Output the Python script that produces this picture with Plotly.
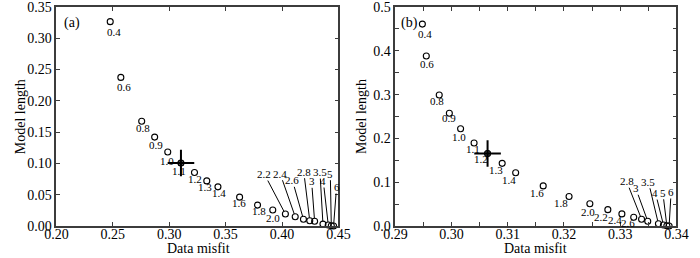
import plotly.graph_objects as go

# ---------------- data ----------------
labels = ["0.4", "0.6", "0.8", "0.9", "1.0", "1.1", "1.2", "1.3", "1.4", "1.6",
          "1.8", "2.0", "2.2", "2.4", "2.6", "2.8", "3", "3.5", "4", "5", "6"]

misfit_a = [0.2477, 0.2571, 0.2756, 0.2871, 0.2987, 0.3104, 0.3224, 0.3333, 0.3432,
            0.3624, 0.3783, 0.3918, 0.4030, 0.4117, 0.4190, 0.4246, 0.4289, 0.4363,
            0.4410, 0.4437, 0.4457]
length_a = [0.3266, 0.2375, 0.1675, 0.1421, 0.1182, 0.1007, 0.0854, 0.0721, 0.0626,
            0.0461, 0.0334, 0.0255, 0.0191, 0.0148, 0.0107, 0.0085, 0.0075, 0.0030,
            0.0016, 0.0005, 0.0000]

misfit_b = [0.2948, 0.2955, 0.2978, 0.2996, 0.3016, 0.3040, 0.3064, 0.3090, 0.3114,
            0.3163, 0.3209, 0.3246, 0.3278, 0.3303, 0.3324, 0.3338, 0.3349, 0.3368,
            0.3377, 0.3383, 0.3387]
length_b = [0.461, 0.388, 0.299, 0.2575, 0.2222, 0.1896, 0.1656, 0.143, 0.1217,
            0.0916, 0.0674, 0.0509, 0.0373, 0.0276, 0.0199, 0.0155, 0.0109, 0.0050,
            0.0022, 0.0005, 0.0000]

ticks_ax = [0.20, 0.25, 0.30, 0.35, 0.40, 0.45]
ticks_ay = [0.00, 0.05, 0.10, 0.15, 0.20, 0.25, 0.30, 0.35]
ticks_bx = [0.29, 0.30, 0.31, 0.32, 0.33, 0.34]
ticks_by = [0.0, 0.1, 0.2, 0.3, 0.4, 0.5]

best_a = 5   # index of chosen parameter (1.1)
best_b = 6   # index of chosen parameter (1.2)

# ---------------- label placement (pixel offsets, style only) ----------------
shift_a = [(4, -10), (3, -10), (1, -7), (1, -8), (-1, -9), (-2, -8), (1, -6), (-2, -6),
           (1, -6), (-1, -6), (1, -6), (0, -8)]
lead_a = [(-21, -40), (-15, -43), (-11, -39), (-6, -49), (-3, -40), (-3, -52),
          (-5, -44), (-1, -52), (3, -39)]
shift_b = [(3, -10), (1, -8), (-2, -6), (0, -5), (-2, -8), (-1, -6), (-7, -6), (-6, -7),
           (-7, -7), (-6, -7), (-8, -7), (-2, -8), (-7, -7), (-7, -6), (-6, -6)]
lead_b = [(-15, -38), (-12, -33), (-10, -42), (-8, -32), (-4, -33), (2, -34)]

FONT = "Liberation Serif"
FRAME = "#3c3c3c"

fig = go.Figure()


def add_panel(xs, ys, best, xa, ya, shifts, leads):
    fig.add_trace(go.Scatter(
        x=xs, y=ys, mode="markers", xaxis=xa, yaxis=ya, cliponaxis=False,
        marker=dict(symbol="circle-open", size=6, color="black", line=dict(width=1.1)),
        showlegend=False, hoverinfo="skip"))
    fig.add_trace(go.Scatter(
        x=[xs[best]], y=[ys[best]], mode="markers", xaxis=xa, yaxis=ya, cliponaxis=False,
        marker=dict(symbol="circle", size=6, color="#555555", line=dict(width=1, color="black")),
        showlegend=False, hoverinfo="skip"))
    fig.add_trace(go.Scatter(
        x=[xs[best]], y=[ys[best]], mode="markers", xaxis=xa, yaxis=ya, cliponaxis=False,
        marker=dict(symbol="cross-thin-open", size=19, color="black", line=dict(width=2, color="black")),
        showlegend=False, hoverinfo="skip"))
    n_plain = len(shifts)
    xref = "x" if xa == "x" else "x2"
    yref = "y" if ya == "y" else "y2"
    for i in range(len(labels)):
        if i < n_plain:
            dx, dy = shifts[i]
            fig.add_annotation(x=xs[i], y=ys[i], xref=xref, yref=yref, text=labels[i],
                               showarrow=False, xshift=dx, yshift=dy,
                               font=dict(family=FONT, size=11, color="black"))
        else:
            ax, ay = leads[i - n_plain]
            fig.add_annotation(x=xs[i], y=ys[i], xref=xref, yref=yref, text=labels[i],
                               showarrow=True, arrowhead=0, arrowwidth=1, arrowcolor="black",
                               ax=ax, ay=ay, standoff=3, startstandoff=0,
                               borderpad=0,
                               font=dict(family=FONT, size=11, color="black"))


add_panel(misfit_a, length_a, best_a, "x", "y", shift_a, lead_a)
add_panel(misfit_b, length_b, best_b, "x2", "y2", shift_b, lead_b)

common = dict(showline=True, linecolor=FRAME, linewidth=1.5, mirror="ticks",
              ticks="inside", ticklen=4, tickcolor=FRAME, tickwidth=1,
              showgrid=False, zeroline=False, ticklabeloverflow="allow",
              tickfont=dict(family=FONT, size=14, color="black"))

fig.update_layout(
    width=700, height=258,
    margin=dict(l=0, r=0, t=6, b=32),
    paper_bgcolor="white", plot_bgcolor="white",
    xaxis=dict(domain=[46 / 700, 338 / 700], range=[0.20, 0.45], tickmode="array",
               tickvals=ticks_ax, ticktext=[f"{v:.2f}" for v in ticks_ax],
               anchor="y", ticklabelstandoff=-6, **common),
    yaxis=dict(domain=[0, 1], range=[0, 0.35], tickmode="array",
               tickvals=ticks_ay, ticktext=[f"{v:.2f}" for v in ticks_ay],
               anchor="x", **common),
    xaxis2=dict(domain=[397 / 700, 688 / 700], range=[0.29, 0.34], tickmode="array",
                tickvals=ticks_bx, ticktext=[f"{v:.2f}" for v in ticks_bx],
                anchor="y2", ticklabelstandoff=-6,
                minor=dict(dtick=0.005, tick0=0.29, ticks="inside", ticklen=4, tickcolor=FRAME),
                **common),
    yaxis2=dict(domain=[0, 1], range=[0, 0.5], tickmode="array",
                tickvals=ticks_by, ticktext=[f"{v:.1f}" for v in ticks_by],
                anchor="x2",
                minor=dict(dtick=0.05, tick0=0, ticks="inside", ticklen=4, tickcolor=FRAME),
                **common),
)

tfont = dict(family=FONT, size=14, color="black")
fig.add_annotation(x=9 / 700, y=0.5, xref="paper", yref="paper", text="Model length",
                   textangle=-90, showarrow=False, font=tfont, xanchor="center", yanchor="middle")
fig.add_annotation(x=362 / 700, y=0.5, xref="paper", yref="paper", text="Model length",
                   textangle=-90, showarrow=False, font=tfont, xanchor="center", yanchor="middle")
fig.add_annotation(x=193 / 700, y=-23 / 220, xref="paper", yref="paper", text="Data misfit",
                   showarrow=False, font=tfont, xanchor="center", yanchor="middle")
fig.add_annotation(x=542 / 700, y=-23 / 220, xref="paper", yref="paper", text="Data misfit",
                   showarrow=False, font=tfont, xanchor="center", yanchor="middle")
fig.add_annotation(x=62 / 700, y=(226 - 22) / 220, xref="paper", yref="paper", text="(a)",
                   showarrow=False, font=tfont, xanchor="center", yanchor="middle")
fig.add_annotation(x=412 / 700, y=(226 - 22) / 220, xref="paper", yref="paper", text="(b)",
                   showarrow=False, font=tfont, xanchor="center", yanchor="middle")

fig.write_html("out.html", config={"displayModeBar": False},
               post_script="document.body.style.margin='0';document.body.style.overflow='hidden';")
